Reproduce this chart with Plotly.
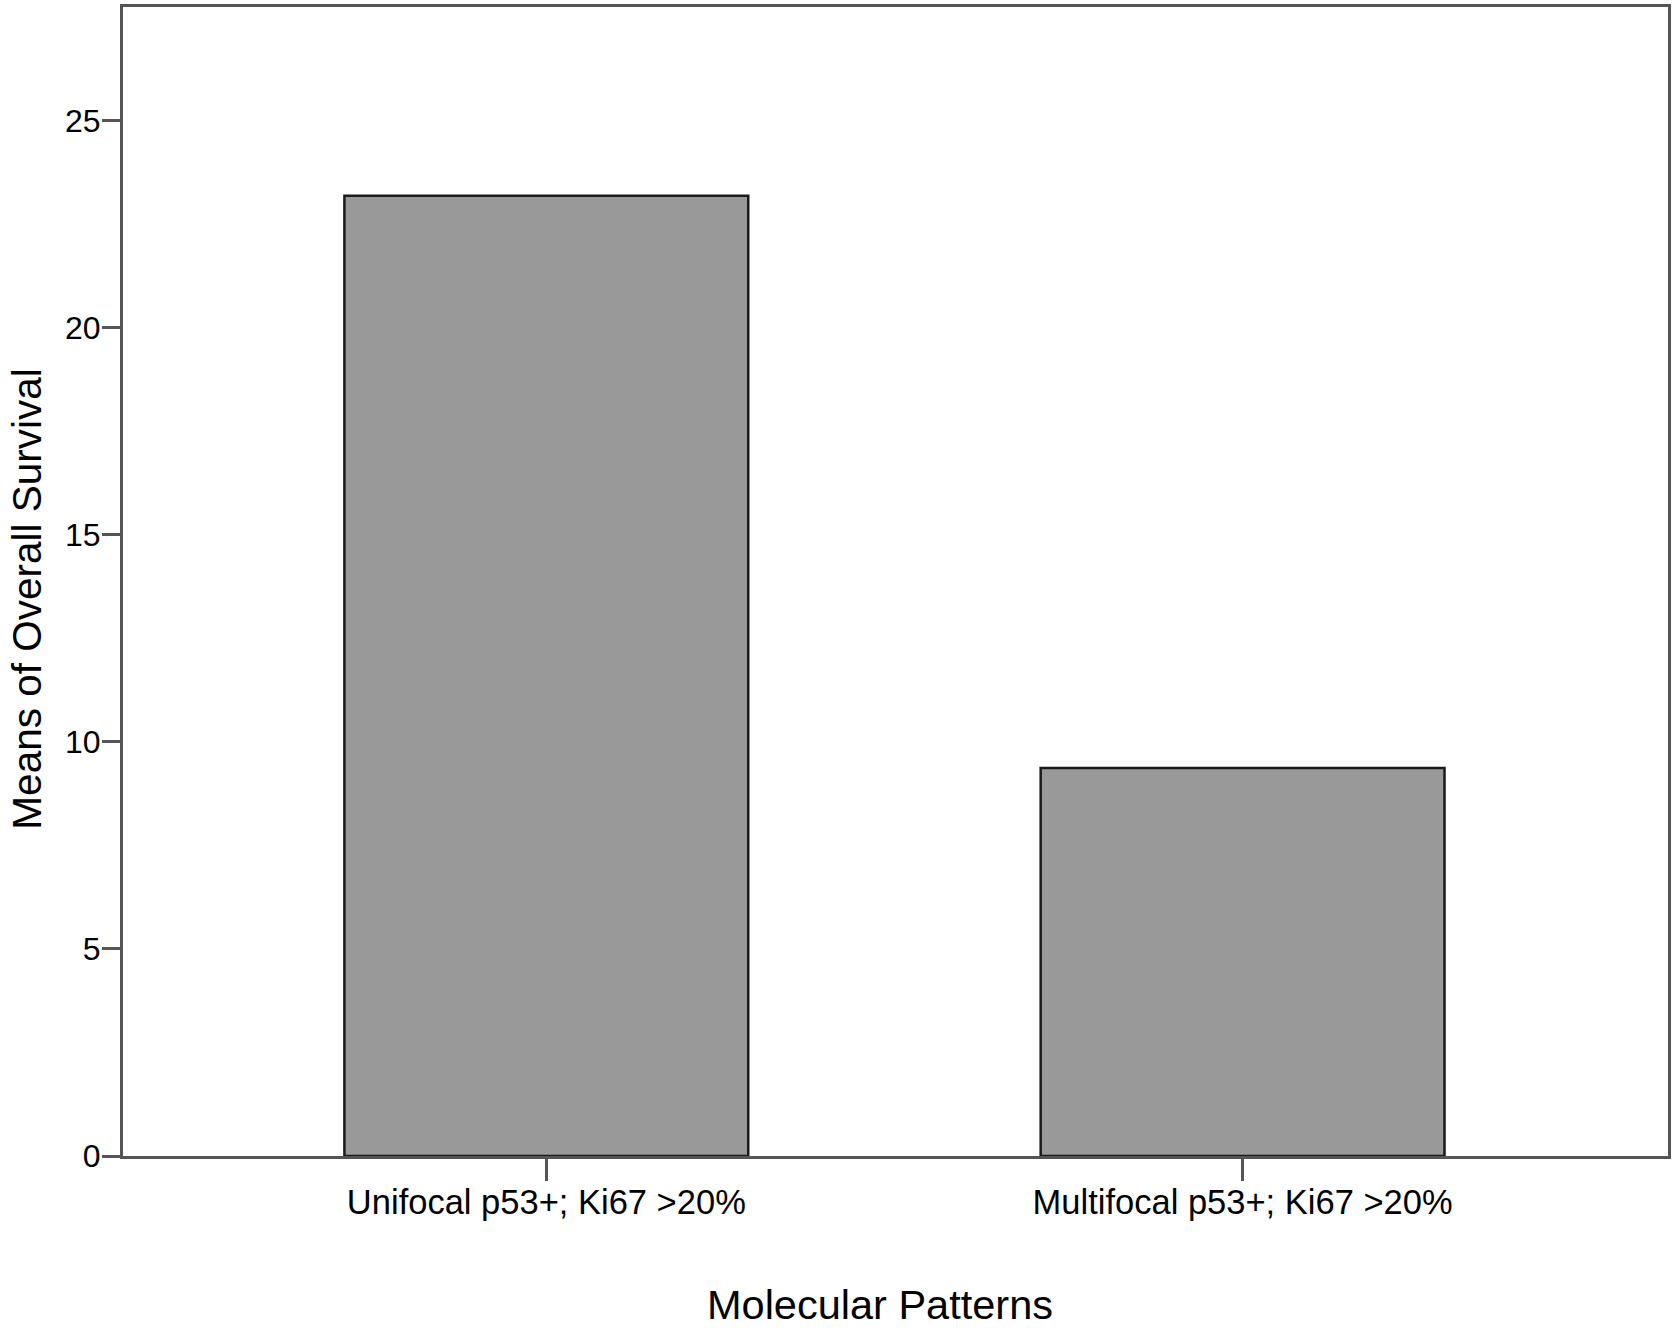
import plotly.graph_objects as go

categories = ["Unifocal p53+; Ki67 >20%", "Multifocal p53+; Ki67 >20%"]
means = [23.19, 9.37]
y_ticks = [0, 5, 10, 15, 20, 25]
x_title = "Molecular Patterns"
y_title = "Means of Overall Survival"

fig = go.Figure()
fig.add_trace(go.Bar(
    x=list(range(len(categories))),
    y=means,
    width=0.58,
    marker=dict(color="#999999", line=dict(color="#1a1a1a", width=2.5)),
    showlegend=False,
))

axis_line = "#555555"
fig.update_layout(
    width=1675, height=1331,
    margin=dict(l=123, r=4, t=4, b=175),
    paper_bgcolor="white", plot_bgcolor="white",
    font=dict(family="Liberation Sans, Arial, Helvetica, sans-serif", color="black"),
    xaxis=dict(
        range=[-0.608, 1.611],
        tickmode="array", tickvals=list(range(len(categories))), ticktext=categories,
        ticks="outside", ticklen=22, tickwidth=2.5, tickcolor=axis_line,
        showline=True, linecolor=axis_line, linewidth=3, mirror=True,
        showgrid=False, zeroline=False,
        tickfont=dict(size=34.5), ticklabelstandoff=-8,
    ),
    yaxis=dict(
        range=[0, 27.75],
        tickmode="array", tickvals=y_ticks, ticktext=[str(v) for v in y_ticks],
        ticks="outside", ticklen=18, tickwidth=2.5, tickcolor=axis_line,
        showline=True, linecolor=axis_line, linewidth=3, mirror=True,
        showgrid=False, zeroline=False,
        tickfont=dict(size=32), ticklabelstandoff=-5,
    ),
    annotations=[
        dict(text=x_title, xref="paper", yref="paper", x=0.4897, y=-0.1293,
             xanchor="center", yanchor="middle", showarrow=False,
             font=dict(size=41.5)),
        dict(text=y_title, xref="paper", yref="paper", x=-0.0620, y=0.4844,
             xanchor="center", yanchor="middle", showarrow=False, textangle=-90,
             borderpad=0, font=dict(size=40.5)),
    ],
)

fig.write_html(
    "out.html",
    config={"displayModeBar": False},
    post_script="document.body.style.margin='0';document.body.style.overflow='hidden';",
)
